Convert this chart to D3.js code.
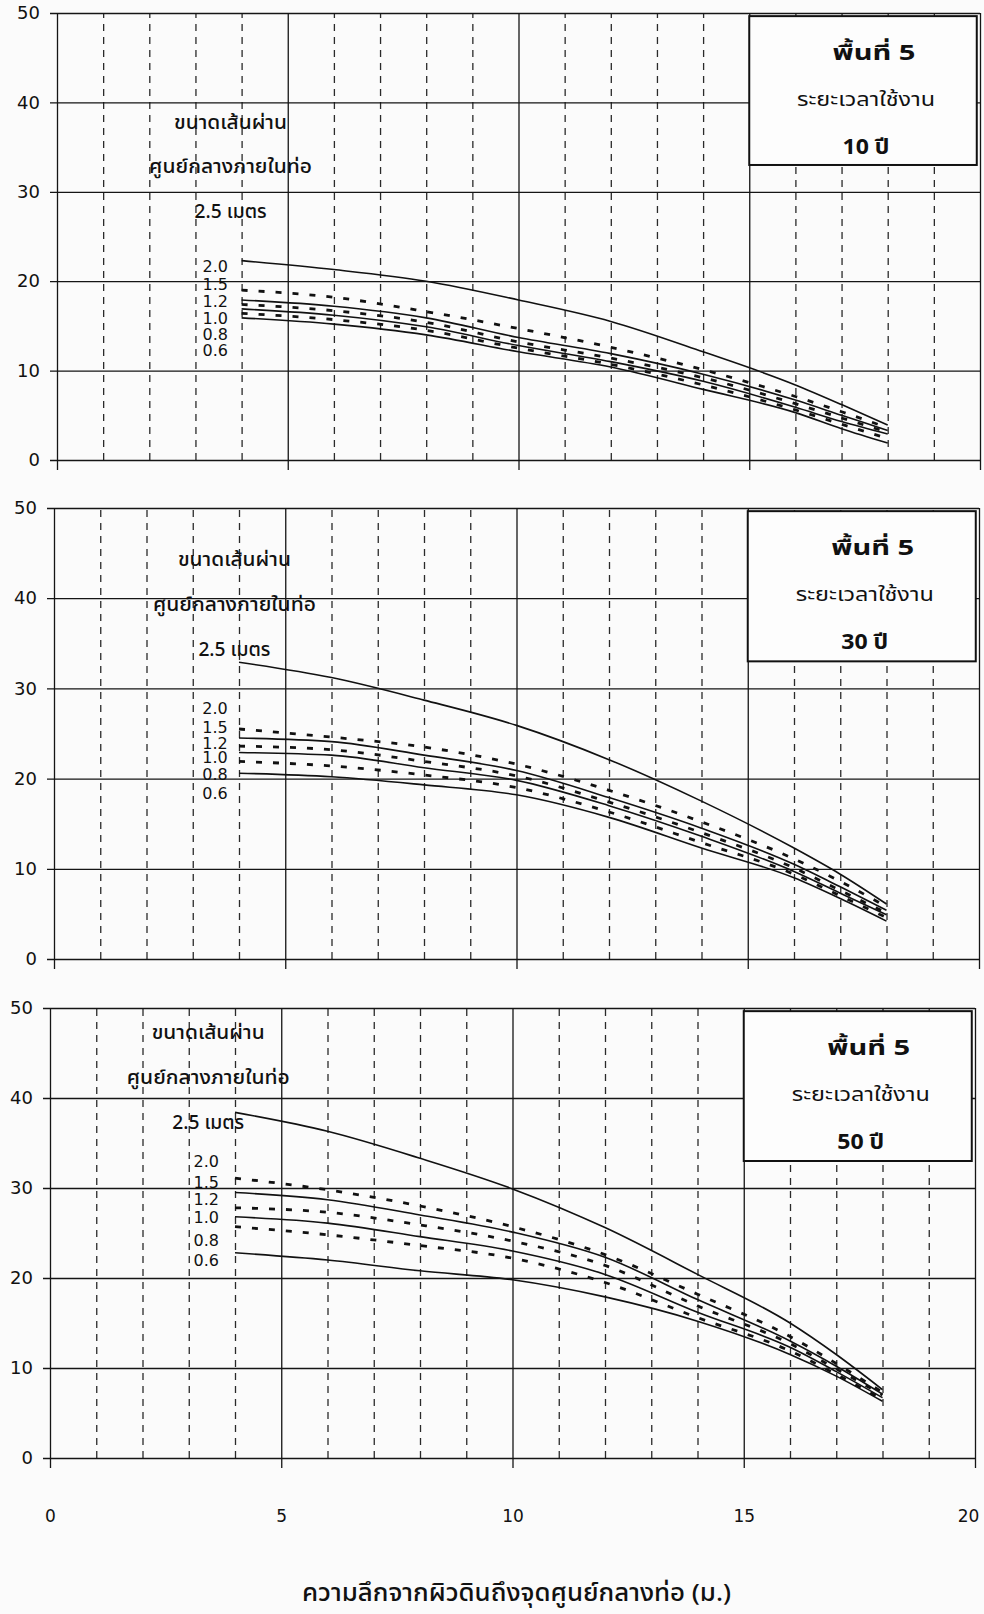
<!DOCTYPE html>
<html>
<head>
<meta charset="utf-8">
<script src="https://cdn.jsdelivr.net/npm/d3@7"></script>
<style>
  html, body { margin: 0; padding: 0; background: #fbfbfb; }
  svg { display: block; }
  .thai { font-family: "Noto Sans Thai", "Loma", "Garuda", "Tlwg Typo", "Norasi", "Kinnari", sans-serif; fill: #111; }
  .num { font-family: "DejaVu Sans", sans-serif; fill: #111; }
</style>
</head>
<body>
<svg id="chart" width="984" height="1614"></svg>
<script>
// Depth from ground surface to pipe centre (m)
const depth = [4, 6, 8, 10, 12, 14, 16, 17, 18];

// Inner pipe diameters (m), top curve first
const diameters = ["2.5", "2.0", "1.5", "1.2", "1.0", "0.8", "0.6"];

// Service life 10 years: one row per diameter, one value per depth
const load10 = [
  [22.3, 21.3, 20.0, 17.9, 15.5, 12.1, 8.4, 6.2, 3.9],
  [19.0, 18.2, 16.6, 14.7, 12.6, 10.1, 7.1, 5.4, 3.6],
  [17.9, 17.2, 15.9, 13.7, 11.9, 9.6, 6.7, 5.0, 3.3],
  [17.4, 16.7, 15.4, 13.2, 11.4, 9.2, 6.3, 4.7, 3.1],
  [16.9, 16.2, 14.9, 12.8, 11.0, 8.8, 5.9, 4.3, 2.9],
  [16.4, 15.7, 14.5, 12.5, 10.7, 8.4, 5.6, 4.0, 2.4],
  [15.9, 15.2, 14.0, 12.1, 10.4, 7.9, 5.3, 3.5, 1.9]
];

// Service life 30 years
const load30 = [
  [32.9, 31.2, 28.7, 25.9, 22.1, 17.5, 12.3, 9.4, 6.1],
  [25.5, 24.6, 23.5, 21.6, 18.7, 15.2, 11.1, 8.6, 5.8],
  [24.5, 24.1, 22.6, 20.9, 17.9, 14.5, 10.5, 8.0, 5.4],
  [23.6, 23.2, 21.9, 20.3, 17.4, 14.0, 10.1, 7.6, 5.1],
  [22.9, 22.6, 21.2, 19.8, 17.0, 13.6, 9.7, 7.3, 4.9],
  [21.9, 21.4, 20.4, 19.0, 16.3, 12.9, 9.4, 7.0, 4.6],
  [20.6, 20.2, 19.3, 18.2, 15.7, 12.3, 9.0, 6.7, 4.2]
];

// Service life 50 years
const load50 = [
  [38.4, 36.3, 33.3, 29.9, 25.6, 20.4, 15.0, 11.5, 7.6],
  [31.1, 29.8, 28.0, 25.7, 22.6, 18.2, 13.5, 10.5, 7.3],
  [29.5, 28.7, 27.0, 25.1, 22.3, 17.6, 13.0, 10.2, 7.1],
  [27.8, 27.3, 25.9, 24.1, 21.4, 16.9, 12.7, 9.9, 7.0],
  [26.8, 26.1, 24.6, 23.0, 20.4, 16.2, 12.3, 9.6, 6.7],
  [25.7, 24.8, 23.6, 22.2, 19.5, 15.6, 11.9, 9.3, 6.5],
  [22.8, 22.0, 20.8, 19.8, 17.9, 15.2, 11.5, 9.1, 6.3]
];

const years = ["10", "30", "50"];
const xTicks = [0, 5, 10, 15, 20];
const xMinor = [1, 2, 3, 4, 6, 7, 8, 9, 11, 12, 13, 14, 16, 17, 18, 19];
const yTicks = [0, 10, 20, 30, 40, 50];

const headerLines = ["ขนาดเส้นผ่าน", "ศูนย์กลางภายในท่อ", "2.5 เมตร"];
const sizeLabels = ["2.0", "1.5", "1.2", "1.0", "0.8", "0.6"];
const boxTitle = "พื้นที่ 5";
const boxSubtitle = "ระยะเวลาใช้งาน";
const yearUnit = "ปี";
const xTitle = "ความลึกจากผิวดินถึงจุดศูนย์กลางท่อ (ม.)";

// Panel frames (pixels) and label anchors (data units)
const panels = [
  { series: load10, year: years[0], top: 13, bottom: 460, left: 57, right: 980,
    headX: 3.76, headY: [37.7, 32.8, 27.7], numX: 3.43, numY: [21.6, 19.6, 17.7, 15.8, 14.0, 12.3] },
  { series: load30, year: years[1], top: 508, bottom: 959, left: 54, right: 979,
    headX: 3.9, headY: [44.2, 39.2, 34.3], numX: 3.48, numY: [27.8, 25.7, 23.9, 22.3, 20.4, 18.4] },
  { series: load50, year: years[2], top: 1008, bottom: 1458, left: 50, right: 975,
    headX: 3.42, headY: [47.2, 42.2, 37.2], numX: 3.38, numY: [32.9, 30.6, 28.7, 26.7, 24.2, 22.0] }
];

// Widths the Thai captions are set to, whatever face the system supplies
const headerWidths = [113, 163, 72];
const boxWidths = { title: 83, subtitle: 138, year: 47 };

const svg = d3.select("#chart");
const ink = "#151515";

function fitText(sel, w) {
  return sel.attr("textLength", w).attr("lengthAdjust", "spacingAndGlyphs");
}

panels.forEach((p, pi) => {
  const x = d3.scaleLinear().domain([0, 20]).range([p.left, p.right]);
  const y = d3.scaleLinear().domain([0, 50]).range([p.bottom, p.top]);
  const g = svg.append("g");
  const h = p.bottom - p.top;
  const isLast = pi === panels.length - 1;

  // dashed minor verticals
  const minor = g.append("g")
    .attr("transform", `translate(0,${p.bottom})`)
    .call(d3.axisBottom(x).tickValues(xMinor).tickSize(-h).tickFormat(""));
  minor.select(".domain").remove();
  minor.selectAll("line").attr("stroke", "#2a2a2a").attr("stroke-width", 1.3)
    .attr("stroke-dasharray", "7,6");

  // solid major verticals, running a little below the base line
  const major = g.append("g")
    .attr("transform", `translate(0,${p.bottom + 10})`)
    .call(d3.axisBottom(x).tickValues(xTicks).tickSize(-(h + 10)).tickPadding(42)
      .tickFormat(isLast ? d3.format("d") : ""));
  major.select(".domain").remove();
  major.selectAll("line").attr("stroke", ink).attr("stroke-width", 1.3);
  major.selectAll("text").attr("class", "num").attr("font-size", 17).attr("fill", ink)
    .attr("dx", d => d === 20 ? -7 : 0);

  // horizontal grid with value labels on the left
  const yAxis = g.append("g")
    .attr("transform", `translate(${p.left - 7},0)`)
    .call(d3.axisLeft(y).tickValues(yTicks).tickSize(-(p.right - p.left + 7)).tickPadding(10));
  yAxis.select(".domain").remove();
  yAxis.selectAll("line").attr("stroke", ink).attr("stroke-width", 1.3);
  yAxis.selectAll("text").attr("class", "num").attr("font-size", 18).attr("fill", ink);

  // curves, one per diameter; alternate curves are dashed
  const line = d3.line()
    .x(d => x(d[0]))
    .y(d => y(d[1]))
    .curve(d3.curveMonotoneX);
  p.series.forEach((vals, i) => {
    const pts = depth.map((dv, k) => [dv, vals[k]]);
    const dashed = i % 2 === 1;
    g.append("path")
      .datum(pts)
      .attr("d", line)
      .attr("fill", "none")
      .attr("stroke", "#111")
      .attr("stroke-width", dashed ? 2.8 : 1.6)
      .attr("stroke-dasharray", dashed ? "6,11" : null)
      .attr("stroke-linejoin", "round");
  });

  // area / service-life box
  const bx0 = x(15), bx1 = x(19.93), by0 = y(49.65), by1 = y(33.0);
  g.append("rect")
    .attr("x", bx0).attr("y", by0)
    .attr("width", bx1 - bx0).attr("height", by1 - by0)
    .attr("fill", "#fdfdfd").attr("stroke", "#111").attr("stroke-width", 2);
  const bc = (bx0 + bx1) / 2 + 3;
  fitText(g.append("text").attr("class", "thai")
    .attr("x", bc + 8).attr("y", by0 + 37).attr("text-anchor", "middle")
    .attr("dominant-baseline", "central").attr("font-size", 21).attr("font-weight", "bold")
    .text(boxTitle), boxWidths.title);
  fitText(g.append("text").attr("class", "thai")
    .attr("x", bc).attr("y", by0 + 84).attr("text-anchor", "middle")
    .attr("dominant-baseline", "central").attr("font-size", 20)
    .text(boxSubtitle), boxWidths.subtitle);
  fitText(g.append("text").attr("class", "thai")
    .attr("x", bc).attr("y", by0 + 131).attr("text-anchor", "middle")
    .attr("dominant-baseline", "central").attr("font-size", 21).attr("font-weight", "bold")
    .text(p.year + " " + yearUnit), boxWidths.year);

  // diameter header and size labels
  headerLines.forEach((t, i) => {
    fitText(g.append("text").attr("class", "thai")
      .attr("x", x(p.headX)).attr("y", y(p.headY[i]))
      .attr("text-anchor", "middle").attr("dominant-baseline", "central")
      .attr("font-size", 20).attr("font-weight", 500)
      .text(t), headerWidths[i]);
  });
  sizeLabels.forEach((t, i) => {
    g.append("text").attr("class", "num")
      .attr("x", x(p.numX)).attr("y", y(p.numY[i]))
      .attr("text-anchor", "middle").attr("dominant-baseline", "central")
      .attr("font-size", 16)
      .text(t);
  });

  if (isLast) {
    fitText(svg.append("text").attr("class", "thai")
      .attr("x", (x(0) + x(20)) / 2 + 4).attr("y", 1594)
      .attr("text-anchor", "middle").attr("dominant-baseline", "central")
      .attr("font-size", 24).attr("font-weight", 500)
      .text(xTitle), 429);
  }
});
</script>
</body>
</html>
